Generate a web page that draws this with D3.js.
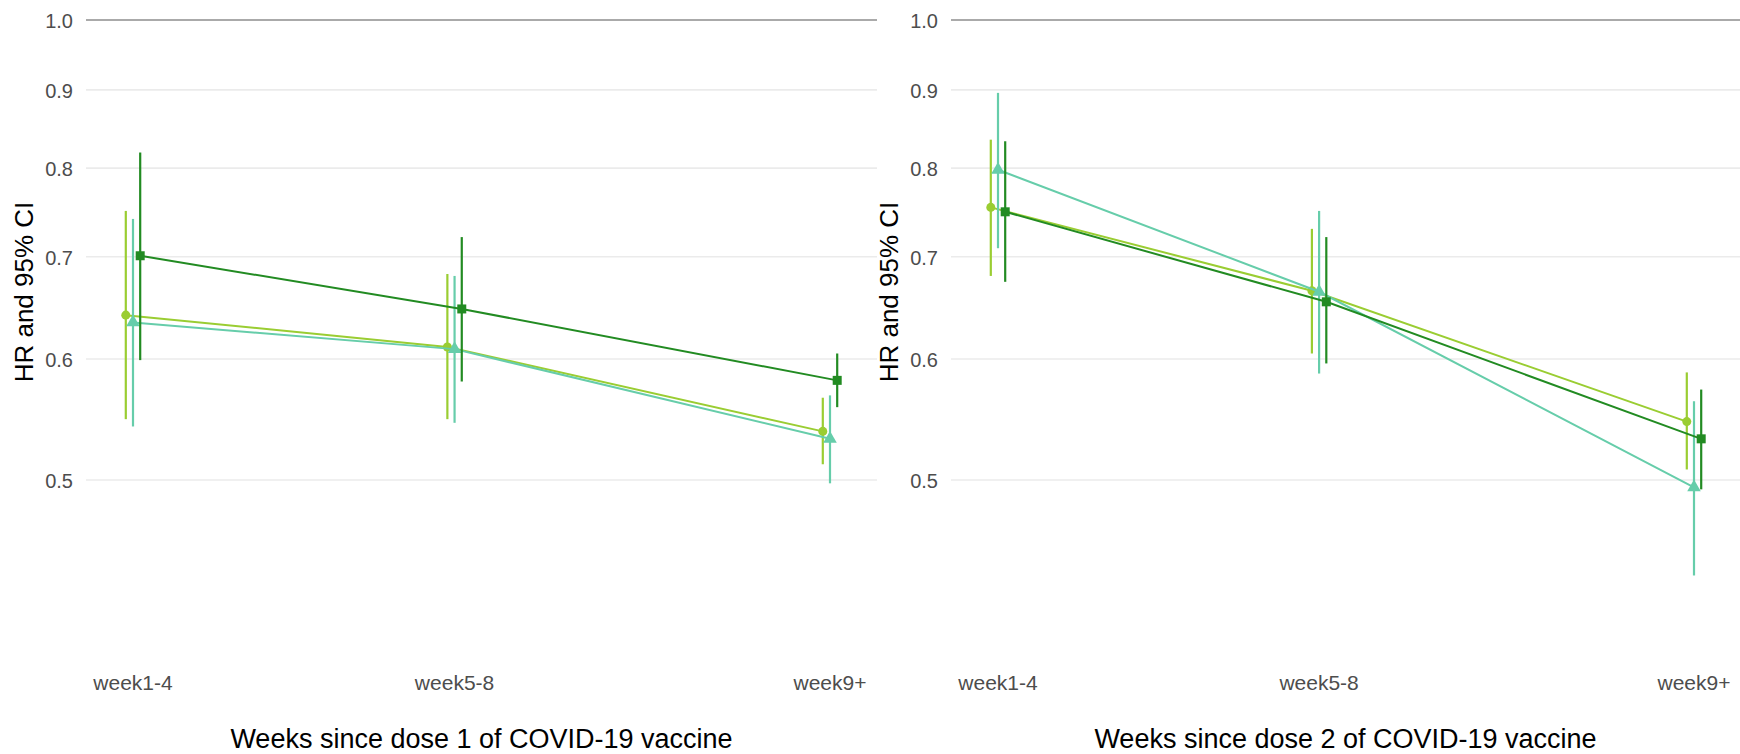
<!DOCTYPE html>
<html>
<head>
<meta charset="utf-8">
<script src="https://cdn.jsdelivr.net/npm/d3@7"></script>
<style>
  html, body { margin: 0; padding: 0; background: #ffffff; }
  svg { display: block; font-family: "Liberation Sans", Arial, sans-serif; }
</style>
</head>
<body>
<svg id="chart" width="1740" height="754"></svg>
<script>
// Time windows after each dose and their midpoints (weeks)
const categories = ["week1-4", "week5-8", "week9+"];
const weekMidpoint = [2.5, 6.5, 11.17];

// Hazard-ratio axis ticks
const hrTicks = [0.5, 0.6, 0.7, 0.8, 0.9, 1.0];
const hrTickLabels = ["0.5", "0.6", "0.7", "0.8", "0.9", "1.0"];

const axisTitles = [
  "Weeks since dose 1 of COVID-19 vaccine",
  "Weeks since dose 2 of COVID-19 vaccine"
];
const yTitle = "HR and 95% CI";

// Three groups, in dodge order
const groupNames = ["Group A", "Group B", "Group C"];

// Dose 1: hazard ratios with 95% confidence limits
const dose1HR_A = [0.641, 0.611, 0.538];
const dose1Lo_A = [0.548, 0.548, 0.512];
const dose1Hi_A = [0.750, 0.682, 0.566];

const dose1HR_B = [0.634, 0.609, 0.532];
const dose1Lo_B = [0.542, 0.545, 0.4975];
const dose1Hi_B = [0.741, 0.680, 0.568];

const dose1HR_C = [0.701, 0.647, 0.581];
const dose1Lo_C = [0.599, 0.580, 0.558];
const dose1Hi_C = [0.819, 0.721, 0.605];

// Dose 2: hazard ratios with 95% confidence limits
const dose2HR_A = [0.754, 0.665, 0.546];
const dose2Lo_A = [0.680, 0.605, 0.508];
const dose2Hi_A = [0.835, 0.730, 0.588];

const dose2HR_B = [0.798, 0.664, 0.4945];
const dose2Lo_B = [0.709, 0.587, 0.433];
const dose2Hi_B = [0.896, 0.750, 0.563];

const dose2HR_C = [0.749, 0.654, 0.532];
const dose2Lo_C = [0.674, 0.596, 0.493];
const dose2Hi_C = [0.833, 0.721, 0.573];

// Styling per group
const groupColors = ["#9acd32", "#66cdaa", "#228b22"];
const groupShapes = [d3.symbolCircle, d3.symbolTriangle, d3.symbolSquare];
const groupShapeSize = [64, 80, 81];

function buildGroups(hr, lo, hi) {
  return groupNames.map((name, g) => ({
    name,
    g,
    values: categories.map((c, i) => ({
      cat: c, x: weekMidpoint[i], hr: hr[g][i], lo: lo[g][i], hi: hi[g][i]
    }))
  }));
}

const panels = [
  {
    title: axisTitles[0],
    groups: buildGroups(
      [dose1HR_A, dose1HR_B, dose1HR_C],
      [dose1Lo_A, dose1Lo_B, dose1Lo_C],
      [dose1Hi_A, dose1Hi_B, dose1Hi_C])
  },
  {
    title: axisTitles[1],
    groups: buildGroups(
      [dose2HR_A, dose2HR_B, dose2HR_C],
      [dose2Lo_A, dose2Lo_B, dose2Lo_C],
      [dose2Hi_A, dose2Hi_B, dose2Hi_C])
  }
];

// Layout
const svg = d3.select("#chart");
svg.append("rect").attr("width", 1740).attr("height", 754).attr("fill", "#ffffff");

const panelBoxes = [
  { left: 86, right: 877 },
  { left: 951, right: 1740 }
];
const xPad = 47;
const dodgePx = 7.2;

const y = d3.scaleLog().domain([0.5, 1]).range([480, 20]);

panels.forEach((panel, p) => {
  const box = panelBoxes[p];
  const gPanel = svg.append("g");

  const x = d3.scaleLinear()
    .domain(d3.extent(weekMidpoint))
    .range([box.left + xPad, box.right - xPad - (p === 1 ? -1 : 0)]);

  // Horizontal gridlines (reference line at HR = 1 drawn darker)
  gPanel.selectAll("line.grid")
    .data(hrTicks)
    .join("line")
    .attr("class", "grid")
    .attr("x1", box.left).attr("x2", box.right)
    .attr("y1", d => y(d)).attr("y2", d => y(d))
    .attr("stroke", d => d === 1 ? "#aaaaaa" : "#ebebeb")
    .attr("stroke-width", d => d === 1 ? 2 : 1.6);

  // Y tick labels
  gPanel.selectAll("text.ytick")
    .data(hrTicks)
    .join("text")
    .attr("class", "ytick")
    .attr("x", box.left - 13)
    .attr("y", d => y(d) + 1)
    .attr("text-anchor", "end")
    .attr("dominant-baseline", "central")
    .attr("font-size", 20)
    .attr("fill", "#4d4d4d")
    .text((d, i) => hrTickLabels[i]);

  // Y axis title
  gPanel.append("text")
    .attr("transform", `translate(${box.left - 53},292) rotate(-90)`)
    .attr("text-anchor", "middle")
    .attr("font-size", 26)
    .attr("fill", "#000000")
    .text(yTitle);

  // X tick labels
  gPanel.selectAll("text.xtick")
    .data(categories)
    .join("text")
    .attr("class", "xtick")
    .attr("x", (d, i) => x(weekMidpoint[i]))
    .attr("y", 690)
    .attr("text-anchor", "middle")
    .attr("font-size", 21)
    .attr("fill", "#4d4d4d")
    .text(d => d);

  // X axis title
  gPanel.append("text")
    .attr("x", (box.left + box.right) / 2)
    .attr("y", 748)
    .attr("text-anchor", "middle")
    .attr("font-size", 27)
    .attr("fill", "#000000")
    .text(panel.title);

  // Series: connecting lines, confidence intervals, point estimates
  const px = (d, g) => x(d.x) + (g - 1) * dodgePx;
  const line = d3.line();

  panel.groups.forEach(grp => {
    const col = groupColors[grp.g];
    const gs = gPanel.append("g");

    gs.append("path")
      .attr("d", line(grp.values.map(d => [px(d, grp.g), y(d.hr)])))
      .attr("fill", "none")
      .attr("stroke", col)
      .attr("stroke-width", 2);

    gs.selectAll("line.ci")
      .data(grp.values)
      .join("line")
      .attr("class", "ci")
      .attr("x1", d => px(d, grp.g)).attr("x2", d => px(d, grp.g))
      .attr("y1", d => y(d.lo)).attr("y2", d => y(d.hi))
      .attr("stroke", col)
      .attr("stroke-width", 2.2);

    gs.selectAll("path.pt")
      .data(grp.values)
      .join("path")
      .attr("class", "pt")
      .attr("transform", d => `translate(${px(d, grp.g)},${y(d.hr)})`)
      .attr("d", d3.symbol().type(groupShapes[grp.g]).size(groupShapeSize[grp.g]))
      .attr("fill", col);
  });
});
</script>
</body>
</html>
